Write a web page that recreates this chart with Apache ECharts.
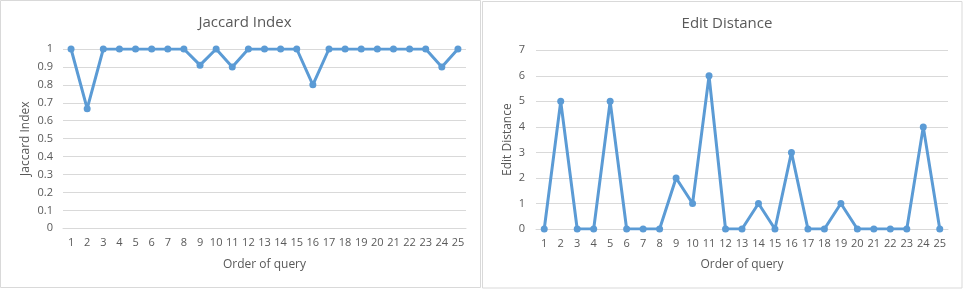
<!DOCTYPE html>
<html><head><meta charset="utf-8">
<script src="https://cdn.jsdelivr.net/npm/echarts@6/dist/echarts.min.js"></script>
<style>html,body{margin:0;padding:0;background:#fff}#c{width:963px;height:289px}</style>
</head><body><div id="c"></div>
<script>
const categories = ['1','2','3','4','5','6','7','8','9','10','11','12','13','14','15','16','17','18','19','20','21','22','23','24','25'];
const jaccard = [1,0.667,1,1,1,1,1,1,0.91,1,0.9,1,1,1,1,0.8,1,1,1,1,1,1,1,0.9,1];
const editDistance = [0,5,0,0,5,0,0,0,2,1,6,0,0,1,0,3,0,0,1,0,0,0,0,4,0];
const leftTitle = 'Jaccard Index';
const rightTitle = 'Edit Distance';
const xName = 'Order of query';

const FONT = 'Open Sans';
const TXT = '#595959';
const LINE = '#5B9BD5';
const GRID = '#D9D9D9';

function xAxis(idx){
  return {type:'category', gridIndex:idx, data:categories, boundaryGap:true,
    name:xName, nameLocation:'middle', nameGap:30,
    nameTextStyle:{color:TXT, fontFamily:FONT, fontSize:12},
    axisLine:{show:true, lineStyle:{color:GRID}}, axisTick:{show:false},
    axisLabel:{color:TXT, fontFamily:FONT, fontSize:11, margin:9, interval:0}};
}
function yAxis(idx, max, interval, name, gap, margin){
  return {type:'value', gridIndex:idx, min:0, max:max, interval:interval,
    name:name, nameLocation:'middle', nameGap:gap,
    nameTextStyle:{color:TXT, fontFamily:FONT, fontSize:12},
    axisLine:{show:false}, axisTick:{show:false},
    splitLine:{lineStyle:{color:GRID}},
    axisLabel:{color:TXT, fontFamily:FONT, fontSize:11, margin:margin}};
}
const chart = echarts.init(document.getElementById('c'));
chart.setOption({
  animation:false,
  graphic:[
    {type:'rect', shape:{x:0.5,y:0.5,width:480,height:287}, style:{fill:null, stroke:'#D9D9D9', lineWidth:1}},
    {type:'rect', shape:{x:482.5,y:1.5,width:479.5,height:286.5}, style:{fill:null, stroke:'#D9D9D9', lineWidth:1}}
  ],
  title:[
    {text:leftTitle, left:240, top:10, textAlign:'center', textStyle:{color:TXT, fontFamily:FONT, fontSize:15, fontWeight:'normal'}},
    {text:rightTitle, left:722, top:11, textAlign:'center', textStyle:{color:TXT, fontFamily:FONT, fontSize:15, fontWeight:'normal'}}
  ],
  grid:[
    {left:63, width:403, top:49, height:179.3},
    {left:536, width:412, top:50.3, height:178.7}
  ],
  xAxis:[xAxis(0), xAxis(1)],
  yAxis:[yAxis(0,1,0.1,'Jaccard Index',31,10), yAxis(1,7,1,'Edit Distance',22,11)],
  series:[
    {type:'line', xAxisIndex:0, yAxisIndex:0, data:jaccard, symbol:'circle', symbolSize:7,
      lineStyle:{color:LINE, width:3}, itemStyle:{color:LINE}},
    {type:'line', xAxisIndex:1, yAxisIndex:1, data:editDistance, symbol:'circle', symbolSize:7,
      lineStyle:{color:LINE, width:3}, itemStyle:{color:LINE}}
  ]
});
</script></body></html>
